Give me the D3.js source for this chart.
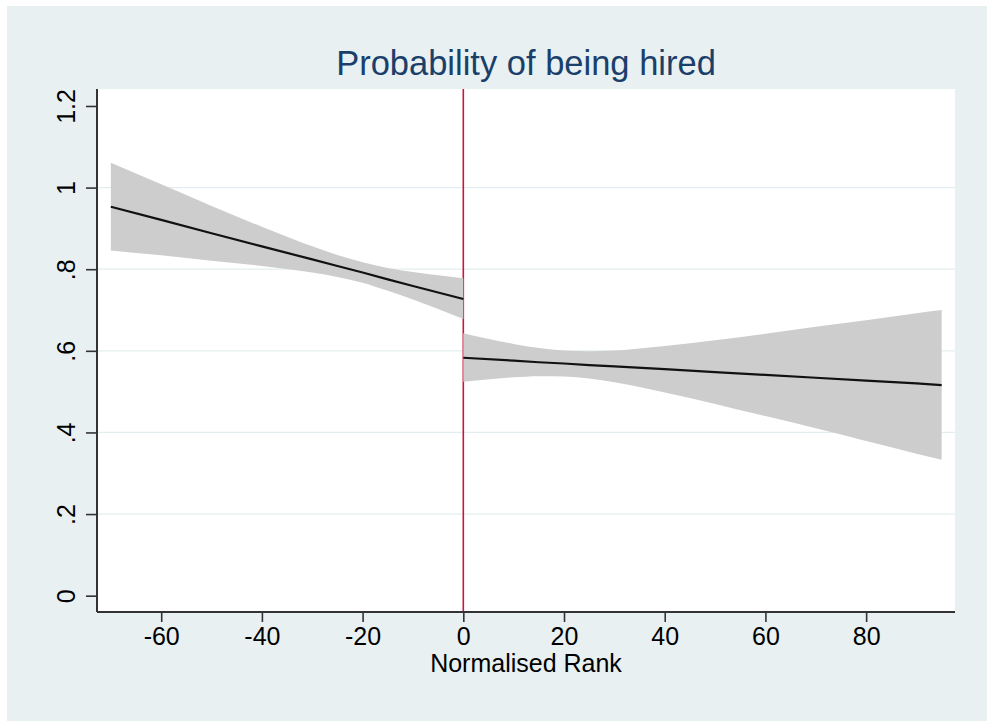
<!DOCTYPE html>
<html>
<head>
<meta charset="utf-8">
<script src="https://cdn.jsdelivr.net/npm/d3@7"></script>
<style>
  body { margin: 0; background: #ffffff; }
  svg { display: block; font-family: "Liberation Sans", Arial, sans-serif; }
</style>
</head>
<body>
<div id="chart"></div>
<script>
// fitted values and 95% band, left of the cutoff
var leftRank  = [-70, -60, -50, -40, -30, -25, -20, -15, -10, 0];
var leftFit   = [0.953, 0.921, 0.888, 0.856, 0.824, 0.808, 0.792, 0.775, 0.759, 0.727];
var leftLower = [0.846, 0.834, 0.821, 0.808, 0.792, 0.781, 0.767, 0.747, 0.726, 0.678];
var leftUpper = [1.061, 1.008, 0.955, 0.904, 0.856, 0.835, 0.817, 0.803, 0.793, 0.778];

// fitted values and 95% band, right of the cutoff
var rightRank  = [0, 10, 15, 20, 25, 30, 40, 50, 60, 70, 80, 90, 95];
var rightFit   = [0.583, 0.576, 0.572, 0.569, 0.565, 0.562, 0.555, 0.548, 0.541, 0.534, 0.527, 0.520, 0.516];
var rightLower = [0.524, 0.535, 0.538, 0.537, 0.532, 0.523, 0.498, 0.470, 0.440, 0.410, 0.379, 0.348, 0.333];
var rightUpper = [0.643, 0.617, 0.607, 0.601, 0.599, 0.601, 0.612, 0.626, 0.642, 0.659, 0.675, 0.692, 0.700];

var xTicks = [-60, -40, -20, 0, 20, 40, 60, 80];
var yTicks = [0, 0.2, 0.4, 0.6, 0.8, 1, 1.2];
var yGrid = [0.2, 0.4, 0.6, 0.8, 1];
var cutoff = 0;

var width = 987, height = 721;
var margin = { top: 89, right: 32, bottom: 109, left: 97 };
var plotW = width - margin.left - margin.right;
var plotH = height - margin.top - margin.bottom;

var svg = d3.select("#chart").append("svg")
    .attr("width", width)
    .attr("height", height);

// graph region
svg.append("rect")
    .attr("x", 7).attr("y", 6)
    .attr("width", width - 7).attr("height", height - 6)
    .attr("fill", "#e8f0f2");

var g = svg.append("g")
    .attr("transform", "translate(" + margin.left + "," + margin.top + ")");

// plot region
g.append("rect")
    .attr("width", plotW).attr("height", plotH)
    .attr("fill", "#ffffff");

var x = d3.scaleLinear().domain([-72.75, 97.65]).range([0, plotW]);
var y = d3.scaleLinear().domain([-0.04, 1.2416]).range([plotH, 0]);

// grid lines
g.append("g").selectAll("line")
    .data(yGrid)
    .join("line")
    .attr("x1", 0).attr("x2", plotW)
    .attr("y1", d => y(d)).attr("y2", d => y(d))
    .attr("stroke", "#e4eef0")
    .attr("stroke-width", 1.2);

// cutoff line (drawn under the bands)
g.append("line")
    .attr("x1", x(cutoff)).attr("x2", x(cutoff))
    .attr("y1", 0).attr("y2", plotH)
    .attr("stroke", "#c8163f")
    .attr("stroke-width", 1.6);

function segment(rank, fit, lower, upper) {
    var rows = rank.map(function (r, i) {
        return { r: r, fit: fit[i], lo: lower[i], hi: upper[i] };
    });
    var area = d3.area()
        .x(d => x(d.r))
        .y0(d => y(d.lo))
        .y1(d => y(d.hi))
        .curve(d3.curveMonotoneX);
    var line = d3.line()
        .x(d => x(d.r))
        .y(d => y(d.fit));
    g.append("path")
        .datum(rows)
        .attr("d", area)
        .attr("fill", "#cdcdcd");
    g.append("path")
        .datum(rows)
        .attr("d", line)
        .attr("fill", "none")
        .attr("stroke", "#111111")
        .attr("stroke-width", 2.2);
}
segment(leftRank, leftFit, leftLower, leftUpper);
segment(rightRank, rightFit, rightLower, rightUpper);

// x axis
var xAxis = g.append("g")
    .attr("transform", "translate(0," + plotH + ")")
    .call(d3.axisBottom(x)
        .tickValues(xTicks)
        .tickSize(10)
        .tickFormat(d => String(d)));
xAxis.select(".domain")
    .attr("d", "M0,0H" + plotW)
    .attr("stroke", "#333333")
    .attr("stroke-width", 2);
xAxis.selectAll(".tick line").attr("stroke", "#333333").attr("stroke-width", 1.6);
xAxis.selectAll(".tick text")
    .attr("font-size", 25)
    .attr("fill", "#000000")
    .attr("dy", 0)
    .attr("y", 33);

// y axis, labels turned like the original
var fmtY = function (d) {
    return d === 0 ? "0" : String(d).replace(/^0\./, ".");
};
var yAxis = g.append("g")
    .call(d3.axisLeft(y)
        .tickValues(yTicks)
        .tickSize(11)
        .tickFormat(fmtY));
yAxis.select(".domain")
    .attr("d", "M0,0V" + plotH)
    .attr("stroke", "#333333")
    .attr("stroke-width", 2);
yAxis.selectAll(".tick line").attr("stroke", "#333333").attr("stroke-width", 1.6);
yAxis.selectAll(".tick text")
    .attr("font-size", 25)
    .attr("fill", "#000000")
    .attr("text-anchor", "middle")
    .attr("transform", "rotate(-90)")
    .attr("x", 0)
    .attr("y", -22)
    .attr("dy", 0);
xAxis.attr("font-family", null);
yAxis.attr("font-family", null);

// axis title
g.append("text")
    .attr("x", plotW / 2)
    .attr("y", plotH + 60)
    .attr("text-anchor", "middle")
    .attr("font-size", 25)
    .attr("fill", "#000000")
    .text("Normalised Rank");

// chart title
g.append("text")
    .attr("x", plotW / 2)
    .attr("y", 75 - margin.top)
    .attr("text-anchor", "middle")
    .attr("font-size", 34.5)
    .attr("fill", "#1a3f6b")
    .text("Probability of being hired");
</script>
</body>
</html>
